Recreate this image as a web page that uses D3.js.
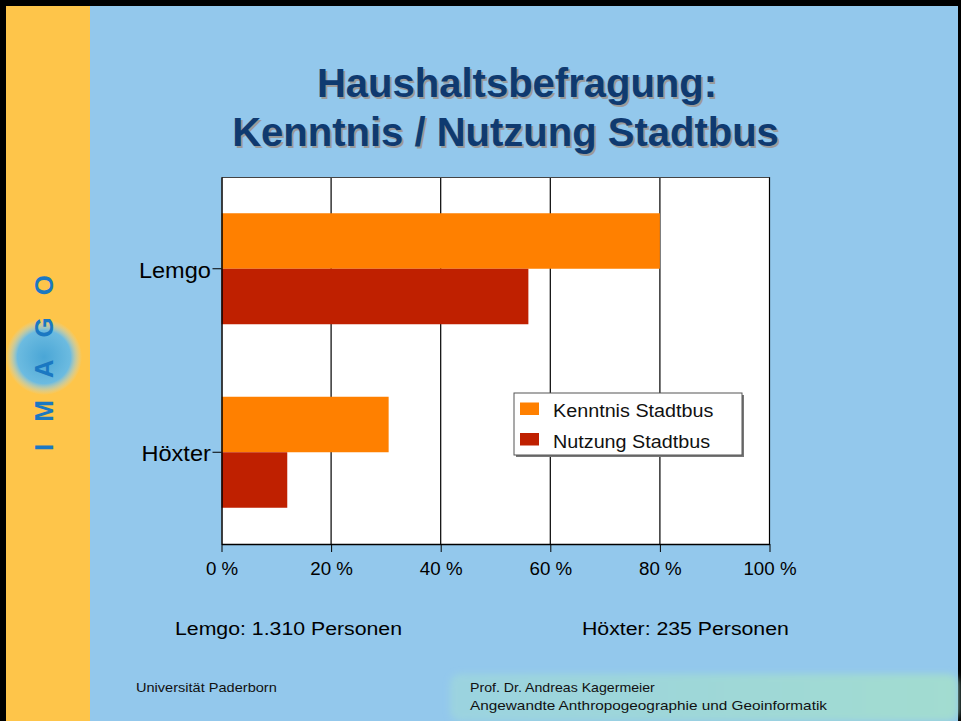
<!DOCTYPE html>
<html>
<head>
<meta charset="utf-8">
<script src="https://cdn.jsdelivr.net/npm/d3@7"></script>
<style>
  body { margin: 0; background: #ffffff; }
  svg { display: block; font-family: "Liberation Sans", Arial, sans-serif; }
</style>
</head>
<body>
<svg id="chart"></svg>
<script>
// data
var cities = ["Lemgo", "Höxter"];
var seriesNames = ["Kenntnis Stadtbus", "Nutzung Stadtbus"];
var kenntnis = [80, 30.5];
var nutzung = [56, 12];
var xTicks = [0, 20, 40, 60, 80, 100];
var sampleLabels = ["Lemgo: 1.310 Personen", "Höxter: 235 Personen"];

var colors = ["#ff8000", "#bf2000"];

var W = 961, H = 721;
var svg = d3.select("#chart").attr("width", W).attr("height", H);

// the slide text is a bit wider than plain Arial
function txt(g, x, y, s, size, sx, anchor) {
  return g.append("text")
      .attr("transform", "translate(" + x + "," + y + ") scale(" + sx + ",1)")
      .attr("text-anchor", anchor || "start")
      .style("font-size", size + "px")
      .text(s);
}

var defs = svg.append("defs");
var blur = defs.append("filter").attr("id", "blur").attr("x", "-50%").attr("y", "-50%").attr("width", "200%").attr("height", "200%");
blur.append("feGaussianBlur").attr("stdDeviation", 3);
var grad = defs.append("linearGradient").attr("id", "foot").attr("x1", 0).attr("x2", 1);
grad.append("stop").attr("offset", 0).attr("stop-color", "#9bd3e0");
grad.append("stop").attr("offset", 1).attr("stop-color", "#a2dcd0");
var glow = defs.append("radialGradient").attr("id", "glow");
glow.append("stop").attr("offset", 0).attr("stop-color", "#4aa6d6");
glow.append("stop").attr("offset", 0.7).attr("stop-color", "#6cbbe0");
glow.append("stop").attr("offset", 1).attr("stop-color", "#bfe3f2").attr("stop-opacity", 0);

// slide background
svg.append("rect").attr("width", W).attr("height", H).attr("fill", "#000");
svg.append("rect").attr("x", 6).attr("y", 6).attr("width", W - 9).attr("height", H - 6).attr("fill", "#93c8ec");
svg.append("rect").attr("x", 6).attr("y", 6).attr("width", 84).attr("height", H - 6).attr("fill", "#fec54a");
svg.append("rect").attr("x", 450).attr("y", 674).attr("width", W - 453).attr("height", 47)
    .attr("rx", 10).attr("fill", "url(#foot)").attr("filter", "url(#blur)");

// logo
svg.append("circle").attr("cx", 44).attr("cy", 357).attr("r", 38).attr("fill", "url(#glow)");
svg.append("text")
    .attr("transform", "translate(53,352) rotate(-90)")
    .attr("text-anchor", "middle")
    .attr("fill", "#1a78c2")
    .style("font-size", "26px").style("font-weight", "bold").style("letter-spacing", "22px")
    .text("IMAGO");

// title
var title = ["Haushaltsbefragung:", "Kenntnis / Nutzung Stadtbus"];
var titleX = [517, 505.5], titleY = [97, 146];
title.forEach(function(t, i) {
  svg.append("text").attr("x", titleX[i]).attr("y", titleY[i])
      .attr("text-anchor", "middle").attr("fill", "#0f3a70")
      .style("text-shadow", "2px 2px 0 #9a9a9a")
      .style("font-size", "40px").style("font-weight", "bold").text(t);
});

// chart
var plotL = 221.5, plotR = 769.5, plotT = 177, plotB = 544;

var x = d3.scaleLinear().domain([0, 100]).range([plotL, plotR]);
var y = d3.scaleBand().domain(cities).range([plotT, plotB]);
var barH = 55.5;

svg.append("rect").attr("x", plotL).attr("y", plotT).attr("width", plotR - plotL).attr("height", plotB - plotT)
    .attr("fill", "#fff");

svg.append("g").selectAll("line").data(xTicks.slice(1)).enter().append("line")
    .attr("x1", function(d) { return x(d); }).attr("x2", function(d) { return x(d); })
    .attr("y1", plotT).attr("y2", plotB)
    .attr("stroke", "#000").attr("stroke-width", 1.2);
svg.append("line").attr("x1", plotL).attr("x2", plotR).attr("y1", plotT + 0.5).attr("y2", plotT + 0.5)
    .attr("stroke", "#444");

var rows = cities.map(function(c, i) { return {city: c, vals: [kenntnis[i], nutzung[i]]}; });
rows.forEach(function(r) {
  r.vals.forEach(function(v, j) {
    svg.append("rect")
        .attr("x", x(0))
        .attr("y", y(r.city) + y.bandwidth() / 2 - barH + j * barH)
        .attr("width", x(v) - x(0))
        .attr("height", barH)
        .attr("fill", colors[j]);
  });
});

var xAxis = svg.append("g")
    .attr("transform", "translate(0," + plotB + ")")
    .call(d3.axisBottom(x).tickValues(xTicks).tickSize(8).tickSizeOuter(0)
      .tickFormat(function(d) { return d + " %"; }));
xAxis.select(".domain").attr("stroke", "#000").attr("stroke-width", 1.5);
xAxis.selectAll("text").style("font-size", "18px").attr("y", 31).attr("dy", 0)
    .attr("fill", "#000").attr("transform", "scale(1.04,1)");

var yAxis = svg.append("g")
    .attr("transform", "translate(" + plotL + ",0)")
    .call(d3.axisLeft(y).tickSize(9).tickSizeOuter(0));
yAxis.select(".domain").attr("stroke", "#000").attr("stroke-width", 1.5);
yAxis.selectAll("text").style("font-size", "22px").attr("fill", "#000")
    .attr("x", -10).attr("dy", "0.4em").attr("transform", "scale(1.07,1)");

// legend
var lg = svg.append("g").attr("transform", "translate(514,393)");
lg.append("rect").attr("x", 2).attr("y", 2).attr("width", 228).attr("height", 62).attr("fill", "#777");
lg.append("rect").attr("width", 228).attr("height", 62).attr("fill", "#fff").attr("stroke", "#555");
seriesNames.forEach(function(s, i) {
  lg.append("rect").attr("x", 6).attr("y", 9.5 + i * 30.5).attr("width", 19).attr("height", 12.5).attr("fill", colors[i]);
  txt(lg, 39, 24 + i * 31, s, 17.5, 1.13).attr("fill", "#111");
});

// sample sizes
txt(svg, 175, 635, sampleLabels[0], 19, 1.12);
txt(svg, 582, 635, sampleLabels[1], 19, 1.12);

// footer
var foot = svg.append("g").attr("fill", "#111");
txt(foot, 136, 692, "Universität Paderborn", 13, 1.12);
txt(foot, 470, 692, "Prof. Dr. Andreas Kagermeier", 13, 1.09);
txt(foot, 470, 710, "Angewandte Anthropogeographie und Geoinformatik", 13, 1.18);
</script>
</body>
</html>
